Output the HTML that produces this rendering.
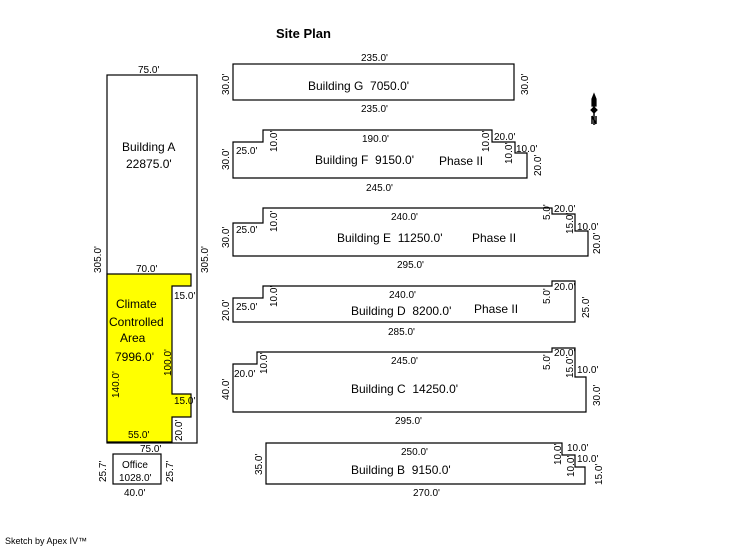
<!DOCTYPE html>
<html><head><meta charset="utf-8"><style>
body{margin:0;background:#fff;}
svg{display:block;font-family:"Liberation Sans",Arial,sans-serif;}
.l{font-size:10px;}
.n{font-size:12px;white-space:pre;}
path,rect{fill:none;stroke:#000;stroke-width:1.2;}
</style></head><body>
<svg width="746" height="547" viewBox="0 0 746 547">
<text x="276" y="38" font-size="13" font-weight="bold">Site Plan</text>

<rect x="107" y="75" width="90" height="368"/>
<path d="M107 274H191V286H172V394H191V417H172V442H107Z" style="fill:#ffff00"/>
<text class="l" x="138" y="73">75.0'</text>
<text class="l" x="136" y="272">70.0'</text>
<text class="n" x="122" y="151">Building A</text>
<text class="n" x="126" y="168">22875.0'</text>
<text class="l" transform="translate(101,273) rotate(-90)">305.0'</text>
<text class="l" transform="translate(208,273) rotate(-90)">305.0'</text>
<text class="l" x="174" y="299">15.0'</text>
<text class="l" x="174" y="404">15.0'</text>
<text class="n" x="116" y="308">Climate</text>
<text class="n" x="109" y="326">Controlled</text>
<text class="n" x="120" y="342">Area</text>
<text class="n" x="115" y="361">7996.0'</text>
<text class="l" transform="translate(119,398) rotate(-90)">140.0'</text>
<text class="l" transform="translate(171,376) rotate(-90)">100.0'</text>
<text class="l" transform="translate(182,441) rotate(-90)">20.0'</text>
<text class="l" x="128" y="438">55.0'</text>
<text class="l" x="140" y="452">75.0'</text>
<rect x="113" y="454" width="48" height="30"/>
<text class="l" x="122" y="468">Office</text>
<text class="l" x="119" y="481">1028.0'</text>
<text class="l" transform="translate(106,482) rotate(-90)">25.7'</text>
<text class="l" transform="translate(173,482) rotate(-90)">25.7'</text>
<text class="l" x="124" y="496">40.0'</text>

<rect x="233" y="64" width="281" height="36"/>
<text class="l" x="361" y="61">235.0'</text>
<text class="l" x="361" y="112">235.0'</text>
<text class="n" x="308" y="90">Building G&#160;&#160;7050.0'</text>
<text class="l" transform="translate(229,95) rotate(-90)">30.0'</text>
<text class="l" transform="translate(528,95) rotate(-90)">30.0'</text>

<path d="M233 142H263V130H492V142H515V153H527V178H233Z"/>
<text class="l" x="236" y="154">25.0'</text>
<text class="l" transform="translate(277,152) rotate(-90)">10.0'</text>
<text class="l" x="362" y="142">190.0'</text>
<text class="l" transform="translate(489,152) rotate(-90)">10.0'</text>
<text class="l" x="494" y="140">20.0'</text>
<text class="l" transform="translate(512,164) rotate(-90)">10.0'</text>
<text class="l" x="516" y="152">10.0'</text>
<text class="l" transform="translate(541,176) rotate(-90)">20.0'</text>
<text class="l" transform="translate(229,170) rotate(-90)">30.0'</text>
<text class="n" x="315" y="164">Building F&#160;&#160;9150.0'</text>
<text class="n" x="439" y="165">Phase II</text>
<text class="l" x="366" y="191">245.0'</text>

<path d="M233 223H263V208H552V214H575V231H588V256H233Z"/>
<text class="l" x="236" y="233">25.0'</text>
<text class="l" transform="translate(277,232) rotate(-90)">10.0'</text>
<text class="l" x="391" y="220">240.0'</text>
<text class="l" transform="translate(550,220) rotate(-90)">5.0'</text>
<text class="l" x="554" y="212">20.0'</text>
<text class="l" transform="translate(573,234) rotate(-90)">15.0'</text>
<text class="l" x="577" y="230">10.0'</text>
<text class="l" transform="translate(600,254) rotate(-90)">20.0'</text>
<text class="l" transform="translate(229,248) rotate(-90)">30.0'</text>
<text class="n" x="337" y="242">Building E&#160;&#160;11250.0'</text>
<text class="n" x="472" y="242">Phase II</text>
<text class="l" x="397" y="268">295.0'</text>

<path d="M233 298H263V286H552V281H575V322H233Z"/>
<text class="l" x="236" y="310">25.0'</text>
<text class="l" transform="translate(277,307) rotate(-90)">10.0'</text>
<text class="l" x="389" y="298">240.0'</text>
<text class="l" transform="translate(550,304) rotate(-90)">5.0'</text>
<text class="l" x="554" y="290">20.0'</text>
<text class="l" transform="translate(589,318) rotate(-90)">25.0'</text>
<text class="l" transform="translate(229,321) rotate(-90)">20.0'</text>
<text class="n" x="351" y="315">Building D&#160;&#160;8200.0'</text>
<text class="n" x="474" y="313">Phase II</text>
<text class="l" x="388" y="335">285.0'</text>

<path d="M233 364H257V352H552V348H575V377H586V412H233Z"/>
<text class="l" x="234" y="377">20.0'</text>
<text class="l" transform="translate(267,374) rotate(-90)">10.0'</text>
<text class="l" x="391" y="364">245.0'</text>
<text class="l" transform="translate(550,370) rotate(-90)">5.0'</text>
<text class="l" x="554" y="356">20.0'</text>
<text class="l" transform="translate(573,378) rotate(-90)">15.0'</text>
<text class="l" x="577" y="373">10.0'</text>
<text class="l" transform="translate(600,406) rotate(-90)">30.0'</text>
<text class="l" transform="translate(229,400) rotate(-90)">40.0'</text>
<text class="n" x="351" y="393">Building C&#160;&#160;14250.0'</text>
<text class="l" x="395" y="424">295.0'</text>

<path d="M266 443H562V455H575V467H585V484H266Z"/>
<text class="l" x="401" y="455">250.0'</text>
<text class="l" transform="translate(561,465) rotate(-90)">10.0'</text>
<text class="l" x="567" y="451">10.0'</text>
<text class="l" transform="translate(574,477) rotate(-90)">10.0'</text>
<text class="l" x="577" y="462">10.0'</text>
<text class="l" transform="translate(602,485) rotate(-90)">15.0'</text>
<text class="l" transform="translate(262,475) rotate(-90)">35.0'</text>
<text class="n" x="351" y="474">Building B&#160;&#160;9150.0'</text>
<text class="l" x="413" y="496">270.0'</text>

<path d="M594 95V125" style="stroke-width:1.5"/>
<path d="M592 99L594 94L596 99V106H592Z" style="fill:#000"/>
<path d="M591 110L594 107L597 110L594 113Z" style="fill:#000"/>
<path d="M592 116V124M596 116V124M592 116L596 124" style="stroke-width:1.5"/>

<text x="5" y="544" font-size="9">Sketch by Apex IV™</text>
</svg>
</body></html>
